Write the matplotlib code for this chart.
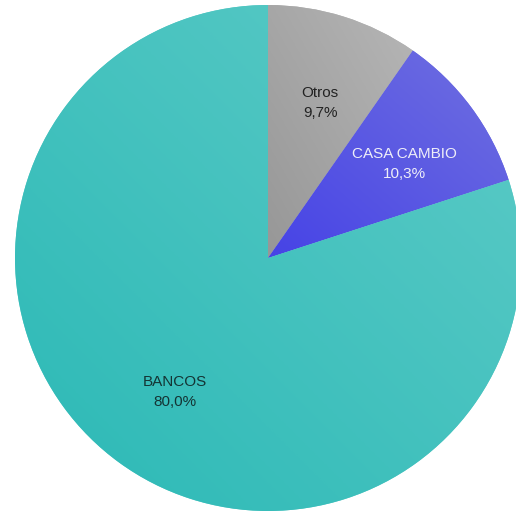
import numpy as np
import matplotlib.pyplot as plt
from matplotlib.colors import LinearSegmentedColormap

labels = ["Otros", "CASA CAMBIO", "BANCOS"]
shares = [9.7, 10.3, 80.0]
# dark end / light end of each slice's gradient
grad_colors = [("#979797", "#b6b6b6"),
               ("#4643e6", "#7070e0"),
               ("#2bb9b6", "#5ecbc7")]
text_colors = ["#222222", "#eeeef8", "#143434"]
label_pos = [(0.206, 0.612), (0.54, 0.37), (-0.368, -0.53)]

fig = plt.figure(figsize=(5.16, 5.11), dpi=100)
ax = fig.add_axes([0, 0, 1, 1])

wedges, _ = ax.pie(shares, startangle=90, counterclock=False, radius=1.0,
                   colors=[c[1] for c in grad_colors],
                   wedgeprops=dict(linewidth=0))

# diagonal gradient (bottom-left dark -> top-right light) clipped to each slice
xs = np.linspace(-1, 1, 400)
X, Y = np.meshgrid(xs, xs)
for w, (c0, c1) in zip(wedges, grad_colors):
    bb = w.get_path().get_extents(w.get_patch_transform())
    g = (X - bb.x0) / max(bb.width, 1e-6) + (Y - bb.y0) / max(bb.height, 1e-6)
    g = np.clip(g / 2, 0, 1)
    cmap = LinearSegmentedColormap.from_list("g", [c0, c1])
    im = ax.imshow(g, cmap=cmap, extent=(-1, 1, -1, 1), origin="lower",
                   vmin=0, vmax=1, interpolation="bilinear", zorder=2)
    im.set_clip_path(w)

for lab, val, (x, y), tc in zip(labels, shares, label_pos, text_colors):
    ax.text(x, y, f"{lab}\n{val:.1f}%".replace(".", ","), ha="center",
            va="center", fontsize=11, color=tc, family="Liberation Sans",
            linespacing=1.55, zorder=3)

ax.set_xlim(-268 / 253, 248 / 253)
ax.set_ylim(-253 / 253, 258 / 253)
ax.set_aspect("equal")
ax.axis("off")

fig.savefig("out.png", dpi=100)
